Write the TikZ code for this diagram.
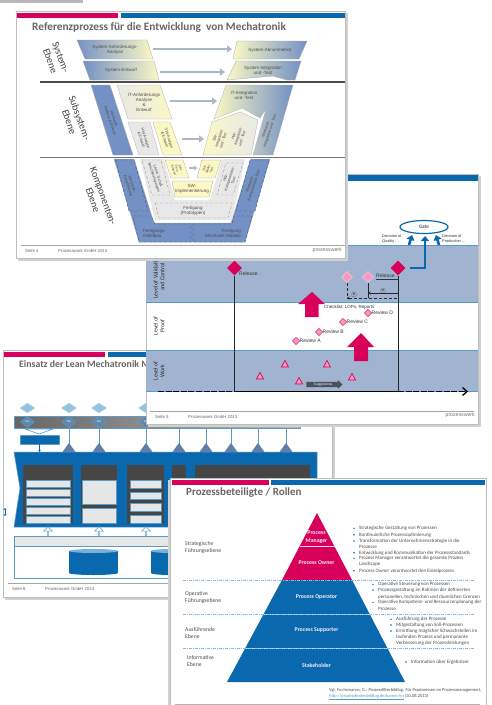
\documentclass[tikz,border=0pt]{standalone}
\usepackage{fontspec}
\setmainfont{Carlito}
\newfontfamily\arialf{Liberation Sans}
\usetikzlibrary{shapes.geometric,shapes.arrows,arrows.meta,shadings}
\definecolor{pinkbar}{HTML}{D9005B}
\definecolor{bluebar}{HTML}{0A69AE}
\definecolor{bandblue}{HTML}{A0B3D0}
\definecolor{vblue}{HTML}{7391C4}
\definecolor{vyellow}{HTML}{FBF8C4}
\definecolor{vgray}{HTML}{E8E8E8}
\definecolor{darkbox}{HTML}{464646}
\definecolor{lightrow}{HTML}{E6E6E6}
\definecolor{edgeblue}{HTML}{5B9BC8}
\definecolor{titlegray}{HTML}{666666}
\definecolor{shadowgray}{HTML}{BDBDBD}
\definecolor{lightdia}{HTML}{93C3DE}
\definecolor{middia}{HTML}{5F86AE}
\definecolor{tri}{HTML}{5F7FA8}
\definecolor{softpink}{HTML}{F49AC0}
\definecolor{flowgray}{HTML}{A9B9C0}
\tikzset{
  slide/.style={fill=white,draw=shadowgray,line width=1pt},
  slideshadow/.style={fill=shadowgray!70},
  slidetitle/.style={font=\bfseries\fontsize{11}{12}\selectfont,text=titlegray,anchor=west,inner sep=0},
  tinyt/.style={font=\arialf\fontsize{4.5}{5}\selectfont,align=center,inner sep=0,text=black!70},
  narrowt/.style={font=\arialf\fontsize{3.8}{4.3}\selectfont,align=center,inner sep=0,text=black!70},
  foott/.style={font=\arialf\fontsize{4.3}{5}\selectfont,anchor=west,inner sep=0,text=black!60},
  brandt/.style={font=\arialf\fontsize{5.2}{6}\selectfont,anchor=east,inner sep=0,text=black!55},
  vside/.style={font=\fontsize{10}{11}\selectfont,align=center,inner sep=0,text=black!75},
  footline/.style={draw=black!35,line width=1pt},
  vrule/.style={draw=black!55,line width=1pt},
  flowarrow/.style={-{Triangle[length=5pt,width=7pt]},line width=2.6pt,draw=flowgray},
  dashbox/.style={draw=black!45,densely dashed,line width=.3pt},
  bluedash/.style={fill=vblue,draw=black!40!vblue,densely dashed,line width=.4pt},
  leveltext/.style={font=\fontsize{5.9}{6.8}\selectfont,align=center,rotate=90,inner sep=0,text=black!85},
  revdia/.style={diamond,fill=softpink,draw=pinkbar!70,line width=.7pt,minimum size=7.5pt,inner sep=0},
  reldia/.style={diamond,fill=pinkbar,minimum size=15pt,inner sep=0},
  softdia/.style={diamond,fill=softpink,draw=softpink!60!white,line width=.6pt,minimum size=11pt,inner sep=0},
  revt/.style={font=\arialf\fontsize{5}{5.5}\selectfont,anchor=west,inner sep=0,text=black!80},
  bigarrow/.style={fill=pinkbar},
  gatearrow/.style={draw=bluebar,line width=2.6pt,-{Triangle[length=5pt,width=8pt]}},
  decit/.style={font=\arialf\fontsize{3.9}{5}\selectfont,align=left,anchor=north west,inner sep=0,text=black!80},
  blipt/.style={font=\fontsize{5}{5.5}\selectfont,anchor=west,inner sep=0,text=black!70},
  reft/.style={font=\fontsize{4.5}{5}\selectfont,anchor=west,inner sep=0,text=black!70},
  levelt/.style={font=\fontsize{5.7}{7}\selectfont,anchor=west,align=left,inner sep=0,text=black!70},
  pyrt/.style={font=\bfseries\fontsize{5.8}{8}\selectfont,align=center,text=white!92!pinkbar,inner sep=0},
  bulletdot/.style={circle,fill=bluebar,minimum size=1.6pt,inner sep=0},
  sepline/.style={draw=edgeblue!70!white,line width=.6pt,dash pattern=on 3pt off 1pt on 1pt off 1pt},
  row/.style={fill=lightrow,draw=edgeblue,line width=.6pt},
  darkcol/.style={fill=darkbox},
  hollowup/.style={single arrow,draw=edgeblue,fill=white,line width=.5pt,rotate=90,minimum height=10pt,minimum width=9pt,single arrow head extend=1.5pt,inner sep=0},
  topdia/.style={diamond,fill=lightdia,draw=lightdia!70!white,line width=.5pt,minimum width=15pt,minimum height=10pt,inner sep=0},
  bardia/.style={diamond,fill=middia,draw=edgeblue,line width=.5pt,minimum width=14pt,minimum height=11pt,inner sep=0,font=\arialf\fontsize{2.6}{3}\selectfont,text=white},
}
\begin{document}
\begin{tikzpicture}[x=1pt,y=-1pt]
\useasboundingbox (0,0) rectangle (491,705);
\fill[white] (0,0) rectangle (491,705);
\fill[black!28] (0,0) rectangle (83,3);

%% ---------- slide 3 (Lean) ----------
\fill[slideshadow] (5,352) rectangle (335,600);
\draw[slide] (3,350) rectangle (332,597);
\fill[pinkbar] (4,352) rectangle (105,357);
\fill[bluebar] (108,352) rectangle (332,357);
\node[slidetitle,font=\bfseries\fontsize{9.8}{11}\selectfont] (t3) at (19,364) {Einsatz der Lean Mechatronik Modell};
\shade[left color=black!60,right color=black!28,draw=edgeblue,line width=.7pt] (14,416) rectangle (300,428);
\foreach \i/\x in {1/27.5,2/69,3/99,4/146}{
  \node[topdia] (ld\i) at (\x,408) {};
  \node[bardia] (md\i) at (\x,422) {MG};
}
\foreach \i/\x in {1/69,2/99,3/146,4/179,5/206,6/231,7/258,8/286}{
  \draw[edgeblue,line width=.8pt] (\x,428) -- (\x,444);
  \fill[tri] (\x,443) -- (\x+6.5,452) -- (\x-6.5,452) -- cycle;
}
\draw[edgeblue,line width=.6pt,fill=white] (25,429) -- (53,429) -- (39,434) -- cycle;
\node[fill=bluebar,draw=edgeblue,line width=.4pt,minimum width=39pt,minimum height=9pt,inner sep=0] (bx) at (39.5,439.5) {};
\coordinate (bxd) at (39.5,452);
\draw[bluebar,line width=.6pt,-{Stealth[length=2pt,width=2.5pt]}] (bx.south) -- (bxd);
\fill[bluebar,draw=edgeblue,line width=.5pt] (14,452) -- (317,452) -- (317,527) -- (14,527) -- (20,488) -- cycle;
\fill[darkcol] (23,465) rectangle (73,524);
\fill[darkcol] (81,465) rectangle (117,524);
\fill[darkcol] (127,465) rectangle (164,524);
\fill[darkcol] (172,465) rectangle (186,524);
\fill[darkcol] (195,465) rectangle (310,524);
\foreach \y in {480,489,498,507,516}{\draw[row] (26.5,\y) rectangle (70,\y+7);}
\draw[row] (82.5,480) rectangle (116,504);
\draw[row] (82.5,508) rectangle (116,523);
\draw[row] (130,480) rectangle (161,488);
\draw[row] (130,492) rectangle (161,499);
\draw[row] (130,503) rectangle (161,511);
\draw[row] (130,515) rectangle (161,523);
\coordinate (dbla) at (5,508);
\coordinate (dblb) at (5,516);
\draw[bluebar,line width=.7pt,{Stealth[length=2pt,width=3pt]}-{Stealth[length=2pt,width=3pt]}] (dbla) -- (dblb);
\foreach \i/\x in {1/48,2/99,3/146}{\node[hollowup] (ha\i) at (\x,532) {};}
\draw[edgeblue,fill=white,line width=.6pt] (14,536) rectangle (180,578);
\draw[edgeblue,fill=lightrow,line width=.6pt] (14,536) rectangle (180,546);
\fill[bluebar] (69,551) rectangle (118,573);
\fill[bluebar] (93.5,573) ellipse[x radius=24.5,y radius=2];
\fill[edgeblue!80!white] (93.5,551) ellipse[x radius=24.5,y radius=2];
\fill[bluebar] (151,551) rectangle (190,573);
\fill[bluebar] (170.5,573) ellipse[x radius=19.5,y radius=2];
\fill[edgeblue!80!white] (170.5,551) ellipse[x radius=19.5,y radius=2];
\draw[footline] (8,583) -- (170,583);
\node[foott] (s3a) at (12,589) {Seite 6};
\node[foott] (s3b) at (45,589) {Prozesswork GmbH 2013};

%% ---------- slide 2 (Gate) ----------
\fill[slideshadow] (148,176) rectangle (481,427);
\draw[slide] (146,174) rectangle (478,424);
\fill[bluebar] (146,175) rectangle (478,181);
\fill[bandblue] (146,245) rectangle (478,302);
\fill[bandblue] (146,350) rectangle (478,391);
\draw[edgeblue,line width=.8pt] (146,245) -- (478,245);
\draw[edgeblue,line width=.8pt] (146,302) -- (478,302);
\draw[edgeblue,line width=.8pt] (146,350) -- (478,350);
\draw[edgeblue,line width=.8pt] (146,391) -- (478,391);
\node[leveltext,anchor=west] (lv1) at (159,299) {Level of Validation\\and Control};
\node[leveltext] (lv2) at (159,326) {Level of\\Proof};
\node[leveltext] (lv3) at (159,371) {Level of\\Work};
\node[reldia] (r1) at (234.5,268) {};
\node[reldia] (r2) at (398,268) {};
\coordinate (r1b) at (234.5,391);
\coordinate (r2b) at (398,391);
\draw[black!85,line width=.7pt] (r1) -- (r1b);
\draw[black!85,line width=.7pt] (r2) -- (r2b);
\node[softdia] (s1) at (347,277) {};
\node[softdia] (s2) at (368,277) {};
\coordinate (s1b) at (347,298);
\coordinate (s2b) at (368,298);
\coordinate (r2h) at (398,293);
\coordinate (s2h) at (368,293);
\coordinate (r2k) at (398,298);
\draw[black!85,line width=.5pt,densely dashed] (s1) -- (s1b);
\draw[black!85,line width=.6pt] (s2) -- (s2b);
\draw[black!85,line width=.5pt,densely dashed,{Stealth[length=2.5pt,width=3pt]}-] (s1b) -- (r2k);
\draw[black!85,line width=.6pt,-{Stealth[length=2.5pt,width=3pt]}] (r2h) -- (s2h);
\node[draw=black!60,circle,line width=.25pt,minimum size=5pt,inner sep=0,font=\arialf\fontsize{3}{3}\selectfont] (rm1) at (354,294.5) {R};
\node[draw=black!60,circle,line width=.25pt,minimum size=5pt,inner sep=0,font=\arialf\fontsize{3}{3}\selectfont] (rm2) at (383,290.5) {R};
\node[revt] (rl1) at (239,274) {Release .};
\node[revt] (rl2) at (376,277) {\underline{Release ..}};
\fill[bigarrow] (312,292) -- (325,304) -- (318.5,304) -- (318.5,317) -- (305,317) -- (305,304) -- (298,304) -- cycle;
\fill[bigarrow] (361,333) -- (374,347) -- (368,347) -- (368,361) -- (354,361) -- (354,347) -- (347,347) -- cycle;
\node[revt,font=\arialf\fontsize{4.5}{5}\selectfont] (chk) at (324,307.5) {Checklist; LOPs; Reports};
\foreach \n/\x/\y in {A/296/341,B/319/332,C/343/322,D/368/313}{
  \node[revdia] (rv\n) at (\x,\y) {};
  \node[revt,anchor=west] (rt\n) at (\x+3.5,\y) {Review \n};
}
\foreach \i/\x/\y in {1/260/376,2/285/364,3/299/381,4/327/364,5/352/377}{
  \fill[softpink,draw=pinkbar,line width=.7pt] (\x,\y-3.5) -- (\x+3.5,\y+3) -- (\x-3.5,\y+3) -- cycle;
}
\node[single arrow,fill=black!55!bandblue,minimum width=9pt,minimum height=36pt,single arrow head extend=1.2pt,inner sep=0,font=\arialf\fontsize{3.4}{3.5}\selectfont,text=white] (sg) at (323,384.5) {Suggestions};
\coordinate (axa) at (158,391.5);
\coordinate (axb) at (468,391.5);
\draw[black,line width=1.3pt,dash pattern=on 6pt off 1.6pt] (axa) -- (234,391.5);
\draw[black,line width=.9pt] (234,391.5) -- (398,391.5);
\draw[black,line width=1.3pt,dash pattern=on 6pt off 1.6pt,-{Straight Barb[length=4.5pt,width=8pt]}] (398,391.5) -- (axb);
\node[draw=bluebar,line width=1.2pt,ellipse,minimum width=48pt,minimum height=13pt,inner sep=0,font=\bfseries\fontsize{5.2}{5.2}\selectfont,text=black!65] (gate) at (424,227) {Gate};
\coordinate (q0) at (409,245);
\coordinate (q1) at (412,235);
\coordinate (p0) at (439,245);
\coordinate (p1) at (436,235);
\coordinate (g0) at (410,268);
\coordinate (g1) at (425,268);
\coordinate (g2) at (425,236);
\draw[gatearrow] (q0) -- (q1);
\draw[gatearrow] (p0) -- (p1);
\draw[gatearrow] (g0) -- (g1) -- (g2);
\node[decit] (dq) at (382,234) {Decision of\\Quality ...};
\node[decit] (dp) at (442,234) {Decision of\\Production ...};
\draw[footline] (150,411) -- (474,411);
\node[foott] (s2a) at (155,416.5) {Seite 5};
\node[foott] (s2b) at (188,416.5) {Prozesswork GmbH 2013};
\node[brandt] (s2c) at (475,415.5) {prozesswerk};

%% ---------- slide 1 (V model) ----------
\fill[slideshadow] (18,13) rectangle (348,261);
\draw[slide] (16,11) rectangle (345,258);
\fill[pinkbar] (17,13) rectangle (118,18);
\fill[bluebar] (121,13) rectangle (345,18);
\node[slidetitle,font=\bfseries\fontsize{11.3}{12}\selectfont] (t1) at (32,27) {Referenzprozess für die Entwicklung\ \ von Mechatronik};
\node[vside,rotate=-70] (e1) at (55.5,59) {System-\\Ebene};
\node[vside,rotate=-70] (e2) at (74.5,120) {Subsystem-\\Ebene};
\node[vside,rotate=-70] (e3) at (98,198) {Komponenten-\\Ebene};
% system rows
\shade[left color=vblue,right color=vyellow,draw=black!35,line width=.3pt] (77,40) -- (147,40) -- (153,59) -- (85,59) -- cycle;
\shade[left color=vblue,right color=vyellow,draw=black!35,line width=.3pt] (83,61) -- (154,61) -- (159,80) -- (90,80) -- cycle;
\shade[left color=vyellow,right color=vblue,draw=black!35,line width=.3pt] (237,41) -- (307,41) -- (299,59) -- (233,59) -- cycle;
\shade[left color=vyellow,right color=vblue,draw=black!35,line width=.3pt] (236,61) -- (301,61) -- (295,80) -- (287,80) -- (273,76) -- (227,80) -- cycle;
\node[tinyt] (a1) at (115,50) {System-Anforderungs-\\Analyse};
\node[tinyt] (a2) at (121,70.5) {System-Entwurf};
\node[tinyt] (a3) at (270,50) {System-Abnahmetest};
\node[tinyt] (a4) at (263,70) {System-Integration\\und -Test};
\coordinate (f1a) at (153,49); \coordinate (f1b) at (232,49);
\coordinate (f2a) at (160,72); \coordinate (f2b) at (225,72);
\coordinate (f3a) at (170,101); \coordinate (f3b) at (217,101);
\coordinate (f4a) at (182,139); \coordinate (f4b) at (204,139);
\coordinate (f5a) at (189,168); \coordinate (f5b) at (197,168);
\draw[flowarrow] (f1a) -- (f1b);
\draw[flowarrow] (f2a) -- (f2b);
\draw[vrule,line width=1.2pt,draw=black!70] (40,82) -- (345,82);
% subsystem left
\fill[vblue,draw=black!30,line width=.3pt] (91,85) -- (110,85) -- (133,155) -- (113,155) -- cycle;
\shade[left color=vgray,right color=vyellow,draw=black!30,line width=.3pt] (117,85) -- (160,85) -- (172,119) -- (128,119) -- cycle;
\fill[vgray,draw=black!30,line width=.3pt] (128,122) -- (150,122) -- (159,155) -- (139,155) -- cycle;
\fill[vyellow,draw=black!30,line width=.3pt] (153,122) -- (170,122) -- (182,155) -- (163,155) -- cycle;
\node[narrowt,rotate=-72] (b1) at (112,120) {Mechanik-\\Analyse \& Entwurf};
\node[tinyt] (b2) at (144,102) {IT-Anforderungs\\Analyse\\\&\\Entwurf};
\node[narrowt,rotate=-72] (b3) at (143.5,139) {HW-Analyse\\\& Entwurf};
\node[narrowt,rotate=-72] (b4) at (167,139) {SW-Analyse\\\& Entwurf};
\draw[flowarrow] (f3a) -- (f3b);
\draw[flowarrow] (f4a) -- (f4b);
% subsystem right
\shade[left color=vyellow,right color=vblue,draw=black!30,line width=.3pt] (226,85) -- (293,85) -- (273,155) -- (253,155) -- (266,109) -- (260,118) -- (242,108) -- (214,119) -- cycle;
\shade[left color=vyellow,right color=vgray,draw=black!30,line width=.3pt] (212,122) -- (240,112) -- (258,120) -- (251,155) -- (203,155) -- cycle;
\node[tinyt] (c1) at (244,95) {IT-Integration\\und -Test};
\node[narrowt,rotate=72] (c2) at (219,139) {SW-\\Integration\\und -Test};
\node[narrowt,rotate=72] (c3) at (238,137) {HW-\\Integration\\und -Test};
\node[narrowt,rotate=72] (c4) at (268,130) {Mechanik-\\Integration und -Test};
\draw[vrule,line width=1pt,draw=black!55] (40,157) -- (345,157);
% component level
\fill[vblue,draw=black!30,line width=.3pt] (114,159) -- (134,159) -- (154,223) -- (231,223) -- (251,159) -- (270,159) -- (245,242) -- (139,242) -- cycle;
\draw[bluedash] (115.5,160) -- (134,160) -- (148,211) -- (129,211) -- cycle;
\draw[bluedash] (250,160) -- (269,160) -- (255,211) -- (236,211) -- cycle;
\draw[bluedash] (133,216) -- (151,216) -- (155,224) -- (191,224) -- (191,242) -- (139,242) -- cycle;
\draw[bluedash] (193,224) -- (232,224) -- (234,216) -- (252,216) -- (245,242) -- (193,242) -- cycle;
\fill[vgray] (140,159) -- (245,159) -- (232,220) -- (155,220) -- cycle;
\fill[white] (164,159) -- (222,159) -- (210,200) -- (175,200) -- cycle;
\draw[dashbox] (142,160) -- (161,160) -- (170,195) -- (152,195) -- cycle;
\draw[dashbox] (226,163) -- (243,163) -- (233,195) -- (217,195) -- cycle;
\draw[dashbox] (155,203) -- (232,203) -- (228,218) -- (159,218) -- cycle;
\fill[vyellow,draw=black!35,line width=.3pt] (165,160) -- (183,160) -- (189,178) -- (171,178) -- cycle;
\fill[vyellow,draw=black!35,line width=.3pt] (202,160) -- (221,160) -- (215,178) -- (197,178) -- cycle;
\fill[vyellow,draw=black!35,line width=.3pt] (172,181) -- (213,181) -- (209,197) -- (175,197) -- cycle;
\draw[flowarrow,line width=1.8pt,-{Triangle[length=3pt,width=5pt]}] (f5a) -- (f5b);
\node[narrowt,rotate=-72] (d1) at (130,185) {Mechanik-\\Ausarbeitung};
\node[narrowt,rotate=-72] (d2) at (156,177) {Lernd. Schalt.\\Beschleunigungen};
\node[narrowt,rotate=-72,font=\arialf\fontsize{3.2}{3.6}\selectfont] (d3) at (177,169) {SW-\\Fein-\\Entwurf};
\node[narrowt,rotate=72,font=\arialf\fontsize{3.2}{3.6}\selectfont] (d4) at (208,169) {SW-\\Modul-\\Test};
\node[tinyt] (d5) at (192,189) {SW-\\Implementierung};
\node[narrowt,rotate=72] (d6) at (229.5,179) {HW-\\Komponenten-\\Test};
\node[narrowt,rotate=72] (d7) at (252,185) {Mechanik-\\Komponenten-Test};
\node[tinyt] (d8) at (193,211) {Fertigung\\(Prototypen)};
\node[tinyt,anchor=west,align=left] (d9) at (143,233) {Fertigungs-\\mittelbau};
\node[tinyt,anchor=east,align=right] (d10) at (241,233) {Fertigung\\Mechanik-Module};
\draw[footline] (21,245) -- (345,245);
\node[foott] (s1a) at (25,251) {Seite 4};
\node[foott] (s1b) at (58,251) {Prozesswork GmbH 2013};
\node[brandt] (s1c) at (342,250) {prozesswerk};

%% ---------- slide 4 (roles) ----------
\fill[slideshadow] (168,480) rectangle (170,705);
\draw[slide] (170,478) rectangle (486,710);
\fill[pinkbar] (172,480) rectangle (269,485);
\fill[bluebar] (271,480) rectangle (485,485);
\node[slidetitle] (t4) at (186,493) {Prozessbeteiligte / Rollen};
% pyramid (apex 317,513; base 227..405 at 682)
\fill[pinkbar] (317,513) -- (282,580) -- (352,580) -- cycle;
\fill[bluebar] (282,580) -- (352,580) -- (405,682) -- (227,682) -- cycle;
\draw[white!85!pinkbar,line width=.5pt] (299.5,546) -- (334.5,546);
\draw[white!80!bluebar,line width=.6pt] (264,614) -- (370,614);
\draw[white!80!bluebar,line width=.6pt] (246,648) -- (388,648);
\foreach \y in {580,614,648}{\draw[sepline] (183,\y) -- (475,\y);}
\node[pyrt] (p1) at (316.5,537) {Process\\Manager};
\node[pyrt] (p2) at (316.5,563) {Process Owner};
\node[pyrt] (p3) at (316.5,597) {Process Operator};
\node[pyrt] (p4) at (316.5,630) {Process Supporter};
\node[pyrt] (p5) at (316.5,665) {Stakeholder};
\node[levelt] (l1) at (185,547.5) {Strategische\\Führungsebene};
\node[levelt] (l2) at (185,597.5) {Operative\\Führungsebene};
\node[levelt] (l3) at (185,633.5) {Ausführende\\Ebene};
\node[levelt] (l4) at (187,661.5) {Informative\\Ebene};
% bullets
\foreach \i/\y/\t in {1/528.3/{Strategische Gestaltung von Prozessen},2/534.7/{Kontinuierliche Prozessoptimierung},3/541/{Transformation der Unternehmensstrategie in die},5/552.7/{Entwicklung und Kommunikation der Prozessstandards},6/558.3/{Prozess Manager verantwortet die gesamte Prozess},8/570.7/{Process Owner verantwortet den Einzelprozess}}{
  \node[bulletdot] (ba\i) at (354,\y) {};
  \node[blipt] (ta\i) at (359,\y) {\t};
}
\node[blipt] (ta4) at (359,546.6) {Prozesse};
\node[blipt] (ta7) at (359,564.3) {Landscape};
\foreach \i/\y/\t in {1/584.3/{Operative Steuerung von Prozessen},2/590/{Prozessgestaltung im Rahmen der definierten},4/602.3/{Operative Kompetenz- und Ressourcenplanung der}}{
  \node[bulletdot] (bb\i) at (373,\y) {};
  \node[blipt] (tb\i) at (378,\y) {\t};
}
\node[blipt] (tb3) at (378,596.7) {personellen, technischen und räumlichen Grenzen};
\node[blipt] (tb5) at (378,609) {Prozesse};
\foreach \i/\y/\t in {1/619.3/{Ausführung der Prozesse},2/625/{Mitgestaltung von Soll-Prozessen},3/631/{Ermittlung möglicher Schwachstellen im}}{
  \node[bulletdot] (bc\i) at (391,\y) {};
  \node[blipt] (tc\i) at (396,\y) {\t};
}
\node[blipt] (tc4) at (396,637) {laufenden Prozess und permanente};
\node[blipt] (tc5) at (396,643.3) {Verbesserung der Prozessleistungen};
\node[bulletdot] (bd1) at (406,662) {};
\node[blipt] (td1) at (411,662) {Information über Ergebnisse};
\node[reft] (ref1) at (329,690) {Vgl. Fuchsmanns, G.: Prozessfilterbildlog. Für Praxiswissen im Prozessmanagement,};
\node[reft] (ref2) at (329,697) {\textcolor{edgeblue}{\underline{http://prozessfindenbildlog.de/kamm/en}} (30.08.2013)};
\draw[black!30,line width=.5pt] (175,704.5) -- (480,704.5);
\end{tikzpicture}
\end{document}
